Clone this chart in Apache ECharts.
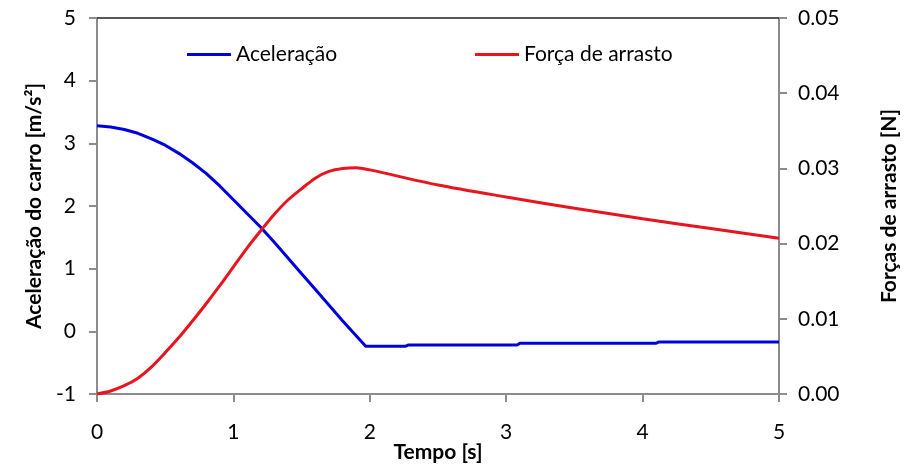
<!DOCTYPE html>
<html>
<head>
<meta charset="utf-8">
<script src="https://cdn.jsdelivr.net/npm/echarts@6/dist/echarts.min.js"></script>
<style>
  html, body { margin: 0; padding: 0; background: #fff; }
  #main { width: 908px; height: 465px; }
</style>
</head>
<body>
<div id="main"></div>
<script>
// values
const accelTime = [0, 0.1, 0.2, 0.3, 0.4, 0.5, 0.6, 0.7, 0.8, 0.9, 1.0, 1.1, 1.2, 1.3, 1.4, 1.5, 1.6, 1.7, 1.8, 1.9, 1.97,
  2.26, 2.28, 3.08, 3.1, 4.1, 4.12, 5.0];
const accelValues = [3.28, 3.26, 3.22, 3.16, 3.07, 2.97, 2.84, 2.69, 2.52, 2.32, 2.10, 1.88, 1.66, 1.42, 1.17, 0.92, 0.67, 0.42, 0.17, -0.07, -0.24,
  -0.24, -0.22, -0.22, -0.19, -0.19, -0.17, -0.17];

const dragTime = [0, 0.1, 0.2, 0.3, 0.4, 0.5, 0.6, 0.7, 0.8, 0.9, 1.0, 1.1, 1.2, 1.3, 1.4, 1.5, 1.6, 1.7, 1.8, 1.9, 2.0,
  2.5, 3.0, 3.5, 4.0, 4.5, 5.0];
const dragValues = [0.0000, 0.0004, 0.0011, 0.0021, 0.0036, 0.0055, 0.0075, 0.0097, 0.0120, 0.0144, 0.0169, 0.0194, 0.0217, 0.0239, 0.0258, 0.0273, 0.0287, 0.0296, 0.0300, 0.0301, 0.0298,
  0.0278, 0.0262, 0.0247, 0.0233, 0.0220, 0.0207];

const seriesNames = ['Aceleração', 'Força de arrasto'];
const xTitle = 'Tempo [s]';
const yLeftTitle = 'Aceleração do carro [m/s²]';
const yRightTitle = 'Forças de arrasto [N]';

const FONT = 'Lato';
const axisGray = '#8c8c8c';

const chart = echarts.init(document.getElementById('main'));

const legendText = { fontFamily: FONT, fontSize: 21, color: '#000', padding: [0, 0, 0, 0] };
const titleText = { fontFamily: FONT, fontSize: 21, fontWeight: 'bold', color: '#000' };

chart.setOption({
  backgroundColor: '#fff',
  animation: false,
  textStyle: { fontFamily: FONT },
  grid: { left: 97, right: 129, top: 18, bottom: 71, outerBoundsMode: 'none', containLabel: false },
  legend: [
    { data: [seriesNames[0]], left: 182, top: 39, icon: 'rect', itemWidth: 44, itemHeight: 3, textStyle: legendText },
    { data: [seriesNames[1]], left: 470, top: 39, icon: 'rect', itemWidth: 44, itemHeight: 3, textStyle: legendText }
  ],
  // x axis title placed under the tick labels
  graphic: [{
    type: 'text', x: 438, y: 452,
    style: {
      text: xTitle, align: 'center', verticalAlign: 'middle',
      font: 'bold 21px ' + FONT, fill: '#000'
    }
  }],
  xAxis: [
    {
      type: 'value', min: 0, max: 5, interval: 1, position: 'bottom',
      axisLine: { show: true, onZero: false, lineStyle: { color: axisGray, width: 2 } },
      axisTick: { show: true, inside: false, length: 8, lineStyle: { color: axisGray, width: 2 } },
      axisLabel: { margin: 28, fontSize: 21, color: '#000', fontFamily: FONT },
      splitLine: { show: false }
    },
    {
      type: 'value', min: 0, max: 5, position: 'top',
      axisLine: { show: true, onZero: false, lineStyle: { color: '#222', width: 1.5 } },
      axisTick: { show: false }, axisLabel: { show: false }, splitLine: { show: false }
    }
  ],
  yAxis: [
    {
      type: 'value', min: -1, max: 5, interval: 1,
      name: yLeftTitle, nameLocation: 'middle', nameGap: 52,
      nameTextStyle: titleText,
      axisLine: { show: true, onZero: false, lineStyle: { color: axisGray, width: 2 } },
      axisTick: { show: true, inside: false, length: 8, lineStyle: { color: axisGray, width: 2 } },
      axisLabel: { margin: 21, fontSize: 21, color: '#000', fontFamily: FONT },
      splitLine: { show: false }
    },
    {
      type: 'value', min: 0, max: 0.05, interval: 0.01, position: 'right',
      name: yRightTitle, nameLocation: 'middle', nameGap: 100, nameRotate: 90,
      nameTextStyle: titleText,
      axisLine: { show: true, onZero: false, lineStyle: { color: axisGray, width: 2 } },
      axisTick: { show: true, inside: false, length: 8, lineStyle: { color: axisGray, width: 2 } },
      axisLabel: { margin: 19, fontSize: 21, color: '#000', fontFamily: FONT, formatter: v => v.toFixed(2) },
      splitLine: { show: false }
    }
  ],
  series: [
    {
      name: seriesNames[0], type: 'line', xAxisIndex: 0, yAxisIndex: 0,
      symbol: 'none', smooth: false,
      lineStyle: { color: '#0000dd', width: 3 }, itemStyle: { color: '#0000dd' },
      data: accelTime.map((t, i) => [t, accelValues[i]])
    },
    {
      name: seriesNames[1], type: 'line', xAxisIndex: 0, yAxisIndex: 1,
      symbol: 'none', smooth: 0.3,
      lineStyle: { color: '#e8141e', width: 3 }, itemStyle: { color: '#e8141e' },
      data: dragTime.map((t, i) => [t, dragValues[i]])
    }
  ]
});
</script>
</body>
</html>
